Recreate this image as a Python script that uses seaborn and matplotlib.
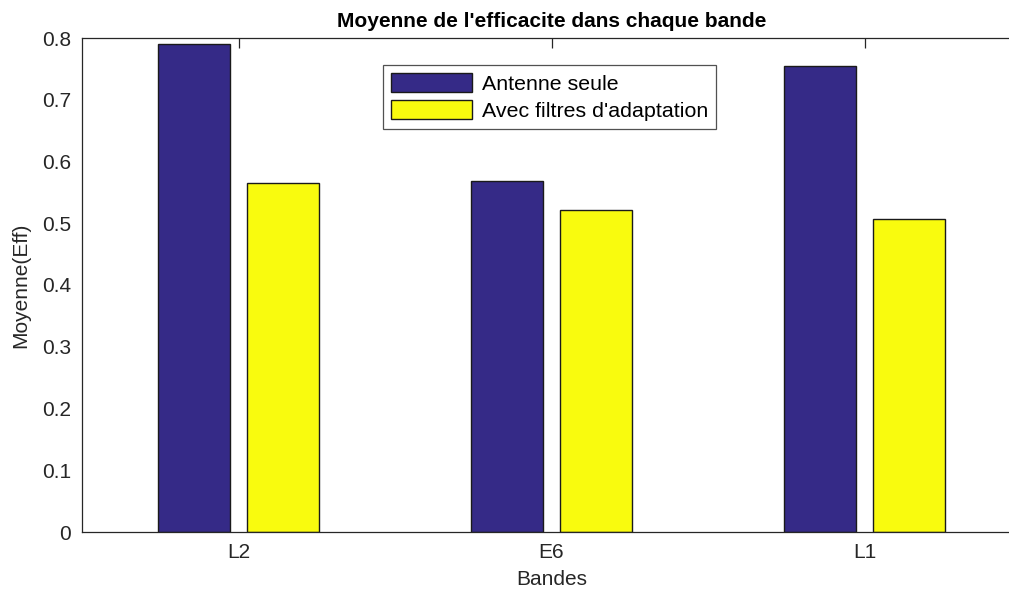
import matplotlib
matplotlib.use("Agg")
import matplotlib.pyplot as plt
import seaborn as sns
import pandas as pd

bandes = ["L2", "E6", "L1"]
series = ["Antenne seule", "Avec filtres d'adaptation"]
antenne_seule = [0.7908, 0.5689, 0.7540]
avec_filtres = [0.5647, 0.5220, 0.5069]
couleurs = ["#352a87", "#f9fb0e"]

df = pd.DataFrame({
    "Bandes": bandes * 2,
    "Moyenne": antenne_seule + avec_filtres,
    "Serie": [series[0]] * 3 + [series[1]] * 3,
})

sns.set_theme(style="white")
plt.rcParams["font.family"] = ["Liberation Sans", "DejaVu Sans"]

fig = plt.figure(figsize=(10.09, 5.94), dpi=100)
ax = fig.add_axes([82 / 1009, 62 / 594, 939 / 1009, 494 / 594])

sns.barplot(data=df, x="Bandes", y="Moyenne", hue="Serie", order=bandes,
            hue_order=series, palette=couleurs, width=0.572, gap=0.2,
            edgecolor="#1a1a1a", linewidth=1.0, ax=ax, errorbar=None,
            saturation=1)

ax.set_xlim(-0.5, 2.5)
ax.set_ylim(0, 0.8)
ax.set_yticks([0, 0.1, 0.2, 0.3, 0.4, 0.5, 0.6, 0.7, 0.8])
ax.set_yticklabels(["0", "0.1", "0.2", "0.3", "0.4", "0.5", "0.6", "0.7", "0.8"])

axis_col = "#262626"
for side in ["left", "bottom", "top"]:
    ax.spines[side].set_visible(True)
    ax.spines[side].set_color(axis_col)
    ax.spines[side].set_linewidth(0.9)
ax.spines["right"].set_visible(False)

ax.tick_params(axis="both", direction="in", length=7, width=0.9,
               colors=axis_col, labelsize=15, top=True, right=False,
               labelcolor=axis_col, pad=8)

ax.set_xlabel("Bandes", fontsize=15, color=axis_col, labelpad=6)
ax.set_ylabel("Moyenne(Eff)", fontsize=15, color=axis_col, labelpad=8)
ax.set_title("Moyenne de l'efficacite dans chaque bande", fontsize=15,
             fontweight="bold", color="black", pad=8)

leg = ax.legend(loc="upper left", bbox_to_anchor=(0.3206, 0.945),
                fontsize=15.4, frameon=True, fancybox=False,
                edgecolor=axis_col, handlelength=3.8, handleheight=0.95,
                handletextpad=0.45, borderpad=0.38, labelspacing=0.3,
                borderaxespad=0)
leg.get_frame().set_linewidth(0.9)
for t in leg.get_texts():
    t.set_color("black")

fig.savefig("out.png", dpi=100)
